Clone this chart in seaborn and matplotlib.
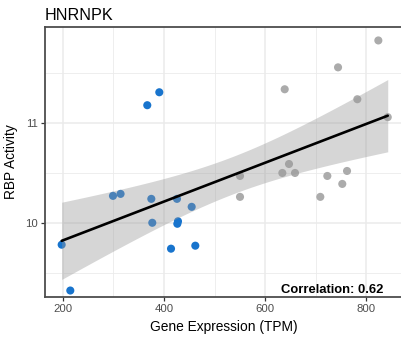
import numpy as np
import pandas as pd
import matplotlib
matplotlib.use("Agg")
import matplotlib.pyplot as plt
import matplotlib.transforms as mtransforms
import seaborn as sns

# Gene expression (TPM) and inferred RBP activity per sample
expression = [390.7, 366.9, 299.0, 314.0, 374.9, 425.7, 454.8, 197.4, 214.5,
              376.8, 427.7, 426.4, 413.9, 462.0,
              824.4, 744.6, 639.0, 782.8, 843.0, 647.5, 634.3, 659.4, 550.5,
              550.5, 723.4, 762.4, 753.0, 709.5]
activity = [11.31, 11.18, 10.27, 10.29, 10.24, 10.24, 10.16, 9.78, 9.32,
            10.00, 10.015, 9.99, 9.74, 9.77,
            11.83, 11.56, 11.34, 11.24, 11.06, 10.59, 10.50, 10.50, 10.47,
            10.26, 10.47, 10.52, 10.39, 10.26]
group = ["low"] * 14 + ["high"] * 14
palette = {"low": "#1874CD", "high": "#ABABAB"}

x_ticks = [200, 400, 600, 800]
y_ticks = [10, 11]

df = pd.DataFrame({"expr": expression, "act": activity, "group": group})
r = np.corrcoef(df["expr"], df["act"])[0, 1]

# linear fit with a 95% t-based confidence band
xv = df["expr"].to_numpy()
yv = df["act"].to_numpy()
n = len(xv)
slope, intercept = np.polyfit(xv, yv, 1)
resid = yv - (intercept + slope * xv)
s_err = np.sqrt(np.sum(resid ** 2) / (n - 2))
t_crit = 2.055529  # t quantile, 0.975, df = 26
grid_x = np.linspace(xv.min(), xv.max(), 200)
fit_y = intercept + slope * grid_x
half = t_crit * s_err * np.sqrt(1 / n + (grid_x - xv.mean()) ** 2 /
                                np.sum((xv - xv.mean()) ** 2))

sns.set_theme(style="white")
plt.rcParams["font.family"] = ["Liberation Sans", "DejaVu Sans"]

W, H = 402, 344
fig = plt.figure(figsize=(W / 100, H / 100), dpi=100)
ax = fig.add_axes([45 / W, 1 - 297 / H, (403.4 - 45) / W, (297 - 27) / H])

ax.set_xlim(164.4, 874.0)
ax.set_ylim(9.255, 11.965)

# grid (major + minor)
for v in [200, 300, 400, 500, 600, 700, 800]:
    ax.axvline(v, color="#EBEBEB", lw=1.1 if v % 200 == 0 else 0.6, zorder=0)
for v in [9.5, 10, 10.5, 11, 11.5]:
    ax.axhline(v, color="#EBEBEB", lw=1.1 if v in (10, 11) else 0.6, zorder=0)

sns.scatterplot(data=df, x="expr", y="act", hue="group", palette=palette,
                s=34, edgecolor="none", legend=False, ax=ax, zorder=2)
ax.fill_between(grid_x, fit_y - half, fit_y + half, color="#999999",
                alpha=0.4, lw=0, zorder=3)
sns.regplot(data=df, x="expr", y="act", scatter=False, ci=None, ax=ax,
            line_kws=dict(color="black", lw=1.9, zorder=4))

lbl = ax.text(383, 290, f"Correlation: {r:.2f}", ha="right", va="center",
              fontsize=9.4, fontweight="bold", color="black")
lbl.set_transform(mtransforms.Affine2D().scale(1, -1).translate(0, H))

ax.set_xticks(x_ticks)
ax.set_yticks(y_ticks)
ax.set_xticklabels([str(v) for v in x_ticks])
ax.set_yticklabels([str(v) for v in y_ticks])
ax.tick_params(axis="both", length=3.2, width=0.9, color="#333333",
               labelsize=8.2, labelcolor="#4D4D4D", pad=2, direction="out",
               bottom=True, left=True)
for side in ["top", "right", "bottom", "left"]:
    ax.spines[side].set_visible(True)
    ax.spines[side].set_color("#4D4D4D")
    ax.spines[side].set_linewidth(1.3)

ax.set_xlabel("Gene Expression (TPM)", fontsize=9.9, color="black", labelpad=4)
ax.set_ylabel("RBP Activity", fontsize=9.9, color="black", labelpad=5)
ax.set_title("HNRNPK", loc="left", fontsize=11.6, color="black", pad=5)

fig.savefig("out.png", dpi=100)
